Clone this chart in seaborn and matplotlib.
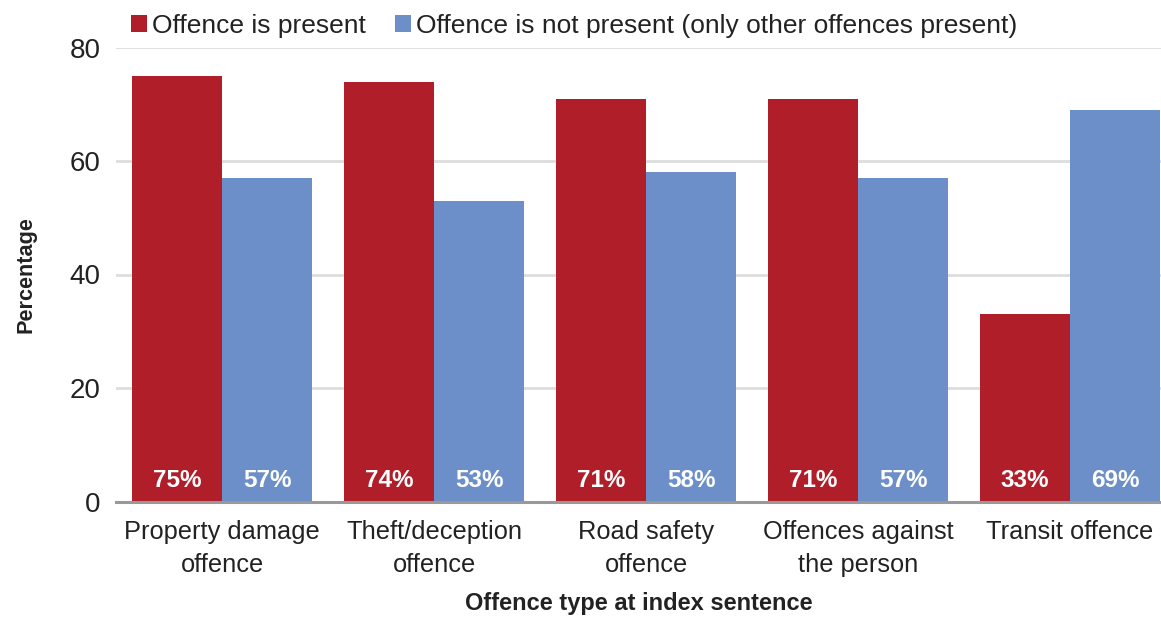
import matplotlib
matplotlib.use("Agg")
import matplotlib.pyplot as plt
from matplotlib.patches import Patch
import seaborn as sns
import pandas as pd

# Offence categories at the index sentence
categories = [
    "Property damage\noffence",
    "Theft/deception\noffence",
    "Road safety\noffence",
    "Offences against\nthe person",
    "Transit offence",
]
series_names = [
    "Offence is present",
    "Offence is not present (only other offences present)",
]
present = [75, 74, 71, 71, 33]
not_present = [57, 53, 58, 57, 69]
y_ticks = [0, 20, 40, 60, 80]

RED = "#B01F29"
BLUE = "#6C8FC9"
TEXT = "#222222"

df = pd.DataFrame({
    "category": categories * 2,
    "series": [series_names[0]] * len(categories) + [series_names[1]] * len(categories),
    "value": present + not_present,
})

sns.set_theme(style="white")
plt.rcParams["font.family"] = ["Liberation Sans", "DejaVu Sans"]

W, H = 1161, 618
fig = plt.figure(figsize=(W / 100, H / 100), dpi=100)
ax = fig.add_axes([116 / W, 1 - 501.5 / H, 1 - 116 / W, (501.5 - 47.5) / H])

sns.barplot(
    data=df, x="category", y="value", hue="series",
    order=categories, hue_order=series_names,
    palette=[RED, BLUE], saturation=1, width=0.85,
    ax=ax, legend=False, zorder=3, linewidth=0, edgecolor="none",
)

ax.set_ylim(0, 80)
ax.set_xlim(-0.5, 4 + (1161 - 1070) / 212)
ax.set_yticks(y_ticks)
ax.yaxis.grid(True, color="#DDDDDD", linewidth=2, zorder=0)
ax.set_axisbelow(True)
for side in ["top", "right", "left"]:
    ax.spines[side].set_visible(False)
ax.spines["bottom"].set_color("#999999")
ax.spines["bottom"].set_linewidth(2.2)
ax.spines["bottom"].set_zorder(5)

ax.tick_params(axis="y", length=0, pad=11, labelsize=20, labelcolor=TEXT)
ax.tick_params(axis="x", length=0, pad=13, labelsize=18.3, labelcolor=TEXT)
for lbl in ax.get_xticklabels():
    lbl.set_linespacing(1.5)

ax.set_ylabel("Percentage", fontsize=15.6, fontweight="bold", color=TEXT, labelpad=24)
ax.set_xlabel("Offence type at index sentence", fontsize=17, fontweight="bold",
              color=TEXT, labelpad=10.5)

# Value labels inside the base of each bar
for container, vals in zip(ax.containers, [present, not_present]):
    labels = [f"{v}%" for v in vals]
    for bar, text in zip(container, labels):
        ax.annotate(text, xy=(bar.get_x() + bar.get_width() / 2, 0),
                    xytext=(0, 15), textcoords="offset points",
                    ha="center", va="center", color="white",
                    fontsize=17.5, fontweight="bold", zorder=6)

handles = [Patch(facecolor=RED, edgecolor="none"), Patch(facecolor=BLUE, edgecolor="none")]
fig.legend(handles, series_names, loc="center left",
           bbox_to_anchor=(131 / W, 1 - 26 / H), bbox_transform=fig.transFigure,
           ncol=2, frameon=False, fontsize=19, handlelength=0.6, handleheight=0.6,
           handletextpad=0.2, columnspacing=1.1, borderpad=0, borderaxespad=0,
           labelcolor=TEXT)

fig.savefig("out.png", dpi=100)
